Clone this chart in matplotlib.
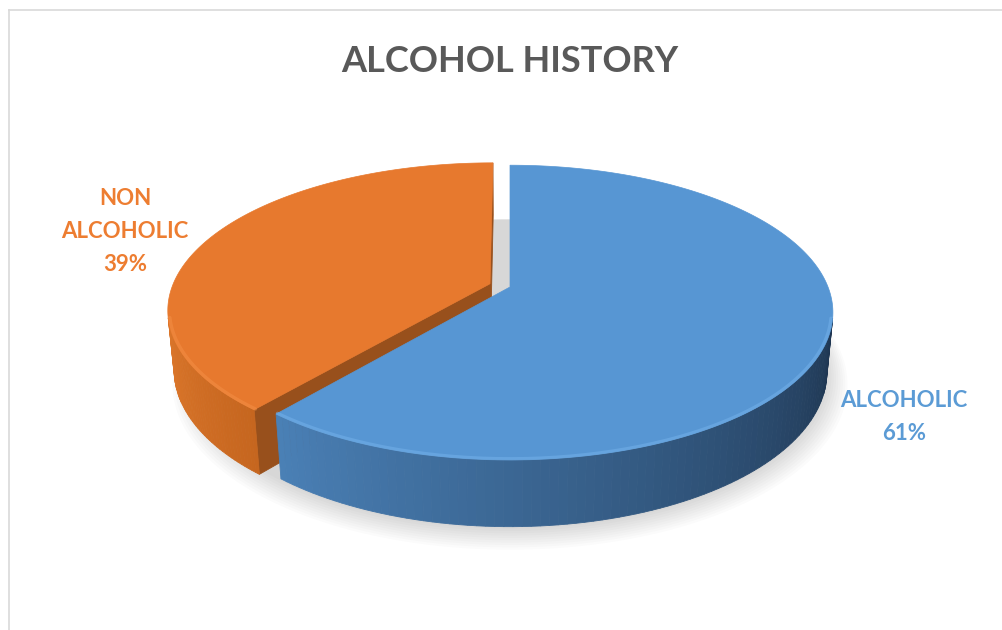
import numpy as np
import matplotlib
matplotlib.use("Agg")
import matplotlib.pyplot as plt
from matplotlib.patches import Polygon
from matplotlib.lines import Line2D
from matplotlib.colors import to_rgb

# data
categories = ["ALCOHOLIC", "NON ALCOHOLIC"]
shares = [61, 39]
explode = [0.0, 0.067]
top_colors = ["#5796D3", "#E7792E"]
label_colors = ["#5B9BD5", "#ED7D31"]
# side shading: (colour at the back-most visible angle, colour at the front corner)
wall_colors = [("#1E3550", "#4A80B6"), ("#DC772B", "#C6661F")]
radial_colors = ["#2B4E73", "#98501C"]
highlight_colors = ["#79B6EE", "#F6934A"]

title = "ALCOHOL HISTORY"

# simple perspective camera for the 3-D pie
W, H = 1003, 630
cx, cy = 510, 287
elev = np.radians(26.7)
sa, ca = np.sin(elev), np.cos(elev)
dist = 5.16
focal = 1641.0
depth = 0.21
cam = np.array([0.0, dist * sa, dist * ca])


def project(X, Y, Z):
    X, Y, Z = np.broadcast_arrays(np.asarray(X, float), np.asarray(Y, float), np.asarray(Z, float))
    yc = Y * ca - Z * sa
    zc = dist - Z * ca - Y * sa
    return cx + focal * X / zc, cy - focal * yc / zc


def facing(normal, point):
    return np.dot(normal, cam - np.asarray(point)) > 0


def lerp_color(c0, c1, t):
    a, b = np.array(to_rgb(c0)), np.array(to_rgb(c1))
    return tuple(a + (b - a) * t)


fig = plt.figure(figsize=(W / 100, H / 100), dpi=100)
ax = fig.add_axes([0, 0, 1, 1])
ax.set_xlim(0, W)
ax.set_ylim(H, 0)
ax.axis("off")

# chart area border
fig.add_artist(Line2D([9 / W, 1], [1 - 10 / H, 1 - 10 / H], color="#D9D9D9", lw=1.2))
fig.add_artist(Line2D([9 / W, 9 / W], [1 - 10 / H, 0], color="#D9D9D9", lw=1.2))

total = float(sum(shares))
bounds = np.concatenate([[0], np.cumsum(shares) / total * 2 * np.pi])
slices = []
for i in range(len(shares)):
    t0, t1 = bounds[i], bounds[i + 1]
    mid = 0.5 * (t0 + t1)
    ox, oz = explode[i] * np.sin(mid), -explode[i] * np.cos(mid)
    slices.append((t0, t1, ox, oz))

# soft shadow under the pie
for k in range(10):
    tt = np.linspace(0, 2 * np.pi, 200)
    r = 1.0 + 0.007 * k
    px, py = project(r * np.sin(tt), -depth, -r * np.cos(tt))
    ax.add_patch(Polygon(np.c_[px, py + 2 + 0.8 * k], closed=True,
                         facecolor="#000000", edgecolor="none", alpha=0.015, zorder=1))

# draw the exploded slice first so the big one sits in front of it
order = sorted(range(len(shares)), key=lambda i: -explode[i])
z = 2
for i in order:
    t0, t1, ox, oz = slices[i]
    faces = []

    # outer wall, split into thin strips for shading
    tt = np.linspace(t0, t1, 160)
    vis = [k for k in range(len(tt) - 1)
           if facing([np.sin(0.5 * (tt[k] + tt[k + 1])), 0, -np.cos(0.5 * (tt[k] + tt[k + 1]))],
                     [ox + np.sin(tt[k]), -depth / 2, oz - np.cos(tt[k])])]
    if vis:
        lo, hi = tt[vis[0]], tt[vis[-1] + 1]
        back = lo if abs(np.cos(lo)) < abs(np.cos(hi)) else hi
        front = hi if back == lo else lo
        for k in vis:
            a, b = tt[k], tt[k + 1]
            xs = ox + np.sin([a, b, b, a])
            zs = oz - np.cos([a, b, b, a])
            ys = np.array([0, 0, -depth, -depth])
            px, py = project(xs, ys, zs)
            frac = (0.5 * (a + b) - back) / (front - back) if front != back else 0
            col = lerp_color(wall_colors[i][0], wall_colors[i][1], np.clip(frac, 0, 1))
            faces.append((np.mean(zs), np.c_[px, py], col))

    # radial walls
    for t, sgn in ((t0, -1), (t1, 1)):
        n = np.array([sgn * np.cos(t), 0, sgn * np.sin(t)])
        xs = np.array([ox, ox + np.sin(t), ox + np.sin(t), ox])
        zs = np.array([oz, oz - np.cos(t), oz - np.cos(t), oz])
        ys = np.array([0, 0, -depth, -depth])
        if facing(n, [xs.mean(), -depth / 2, zs.mean()]):
            px, py = project(xs, ys, zs)
            faces.append((np.mean(zs) + 0.05, np.c_[px, py], radial_colors[i]))

    faces.sort(key=lambda f: f[0])
    for _, pts, col in faces:
        ax.add_patch(Polygon(pts, closed=True, facecolor=col, edgecolor=col,
                             lw=0.6, zorder=z))
        z += 0.001

    # top face
    arc = np.linspace(t0, t1, 240)
    xs = np.r_[ox, ox + np.sin(arc)]
    zs = np.r_[oz, oz - np.cos(arc)]
    px, py = project(xs, 0, zs)
    ax.add_patch(Polygon(np.c_[px, py], closed=True, facecolor=top_colors[i],
                         edgecolor=top_colors[i], lw=0.5, zorder=z + 0.1))

    # soft bevel highlight along the front rim
    if vis:
        rim = np.linspace(tt[vis[0]], tt[vis[-1] + 1], 160)
        rx, ry = project(ox + 0.995 * np.sin(rim), 0, oz - 0.995 * np.cos(rim))
        ax.plot(rx, ry, color=highlight_colors[i], lw=2.4, alpha=0.45,
                solid_capstyle="round", zorder=z + 0.2)
    z += 1

# title
ax.text(W / 2 + 8, 72, title, ha="center", va="baseline", fontsize=26,
        fontweight="bold", family=["Lato", "DejaVu Sans"], color="#595959", zorder=10)

# data labels
label_pos = [(904, 407), (125, 205)]
label_lines = [[categories[0], f"{shares[0]}%"],
               ["NON", "ALCOHOLIC", f"{shares[1]}%"]]
for i, (lx, ly) in enumerate(label_pos):
    for j, line in enumerate(label_lines[i]):
        ax.text(lx, ly + j * 33, line, ha="center", va="baseline", fontsize=16,
                fontweight="bold", family=["Lato", "DejaVu Sans"],
                color=label_colors[i], zorder=10)

fig.savefig("out.png", dpi=100)
